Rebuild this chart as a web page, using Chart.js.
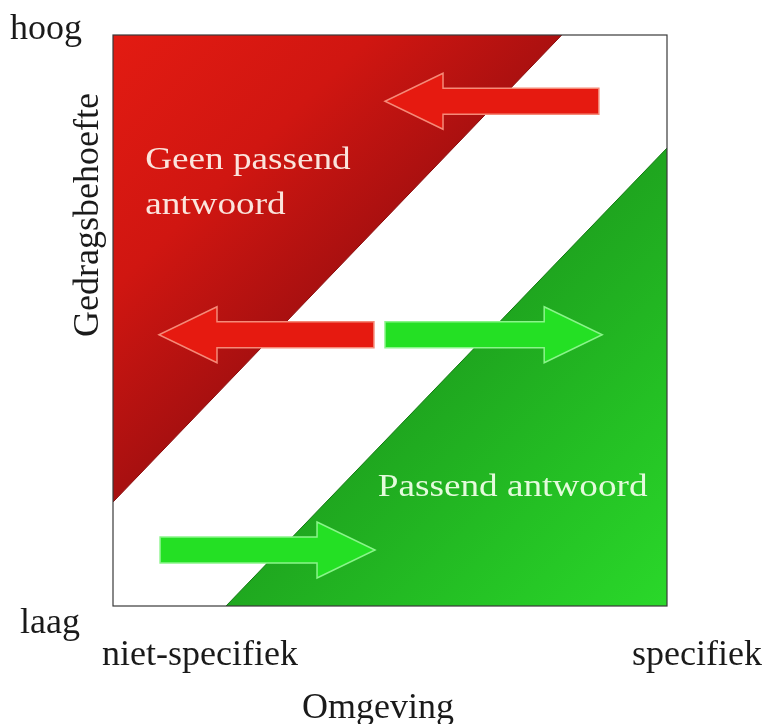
<!DOCTYPE html>
<html>
<head>
<meta charset="utf-8">
<script src="https://cdn.jsdelivr.net/npm/chart.js@4.4.0/dist/chart.umd.min.js"></script>
<style>
  body { margin: 0; background: #fff; }
  #wrap { width: 766px; height: 724px; }
</style>
</head>
<body>
<div id="wrap"><canvas id="diagram"></canvas></div>
<script>
// axis texts
const xTickLabels = ['niet-specifiek', 'specifiek'];
const yTickLabels = ['laag', 'hoog'];
const xTitle = 'Omgeving';
const yTitle = 'Gedragsbehoefte';

// the two regions (edge of each triangle, in 0..10 units)
const redEdgeX = [0, 8.1];
const redEdgeY = [1.82, 10];
const greenEdgeX = [2.04, 10];
const greenEdgeY = [0, 8.02];
const regionLabels = [['Geen passend', 'antwoord'], ['Passend antwoord']];
const regionLabelX = [0.58, 4.78];
const regionLabelY = [7.66, 1.93];

// arrows: from tail to tip at height y
const arrowFrom = [8.77, 4.71, 4.91, 0.85];
const arrowTo = [4.91, 0.83, 8.83, 4.73];
const arrowY = [8.84, 4.75, 4.75, 0.98];
const arrowKind = ['red', 'red', 'green', 'green'];

const arrowStyle = {
    red: { fill: '#e61a10', stroke: '#f58a78' },
    green: { fill: '#24e024', stroke: '#8af58a' }
};

function redGradient(context) {
    const a = context.chart.chartArea;
    if (!a) return '#d01812';
    const g = context.chart.ctx.createLinearGradient(a.left, a.top, a.left + 230, a.top + 235);
    g.addColorStop(0, '#e31b12');
    g.addColorStop(0.55, '#d01611');
    g.addColorStop(1, '#a81010');
    return g;
}

function greenGradient(context) {
    const a = context.chart.chartArea;
    if (!a) return '#26c026';
    const g = context.chart.ctx.createLinearGradient(a.right - 225, a.bottom - 230, a.right, a.bottom);
    g.addColorStop(0, '#1fa61f');
    g.addColorStop(0.5, '#24c024');
    g.addColorStop(1, '#2ad82a');
    return g;
}

function drawArrow(ctx, x0, x1, y, kind) {
    const d = x1 > x0 ? 1 : -1;
    const h = 13, H = 28, L = 58;
    const bx = x1 - d * L;
    ctx.beginPath();
    ctx.moveTo(x0, y - h);
    ctx.lineTo(bx, y - h);
    ctx.lineTo(bx, y - H);
    ctx.lineTo(x1, y);
    ctx.lineTo(bx, y + H);
    ctx.lineTo(bx, y + h);
    ctx.lineTo(x0, y + h);
    ctx.closePath();
    ctx.fillStyle = arrowStyle[kind].fill;
    ctx.fill();
    ctx.lineWidth = 1.5;
    ctx.strokeStyle = arrowStyle[kind].stroke;
    ctx.stroke();
}

const decorPlugin = {
    id: 'decor',
    afterDatasetsDraw(chart) {
        const ctx = chart.ctx;
        const a = chart.chartArea;
        const xs = chart.scales.x, ys = chart.scales.y;
        ctx.save();

        // frame
        ctx.strokeStyle = '#3a3a3a';
        ctx.lineWidth = 1.2;
        ctx.strokeRect(a.left, a.top, a.right - a.left, a.bottom - a.top);

        // arrows
        arrowFrom.forEach((from, i) => {
            drawArrow(ctx, xs.getPixelForValue(from), xs.getPixelForValue(arrowTo[i]),
                ys.getPixelForValue(arrowY[i]), arrowKind[i]);
        });

        // region labels (slightly wide serif, like the original)
        const labelColors = ['#fbe4dc', '#e4fbdc'];
        ctx.font = '31px "Liberation Serif", "DejaVu Serif", serif';
        ctx.textBaseline = 'alphabetic';
        ctx.textAlign = 'left';
        regionLabels.forEach((lines, i) => {
            const px = xs.getPixelForValue(regionLabelX[i]);
            const py = ys.getPixelForValue(regionLabelY[i]);
            ctx.fillStyle = labelColors[i];
            lines.forEach((line, j) => {
                ctx.save();
                ctx.translate(px, py + j * 45);
                ctx.scale(1.2, 1);
                ctx.fillText(line, 0, 0);
                ctx.restore();
            });
        });

        // axis texts
        ctx.fillStyle = '#1a1a1a';
        ctx.font = '36px "Liberation Serif", "DejaVu Serif", serif';
        ctx.textAlign = 'left';
        ctx.fillText(yTickLabels[1], 10, a.top + 4);
        ctx.fillText(yTickLabels[0], 20, a.bottom + 27);
        ctx.fillText(xTickLabels[0], 102, a.bottom + 59);
        ctx.textAlign = 'right';
        ctx.fillText(xTickLabels[1], 762, a.bottom + 59);
        ctx.textAlign = 'center';
        ctx.fillText(xTitle, 378, a.bottom + 112);

        ctx.save();
        ctx.translate(98, 215);
        ctx.rotate(-Math.PI / 2);
        ctx.fillText(yTitle, 0, 0);
        ctx.restore();

        ctx.restore();
    }
};

new Chart(document.getElementById('diagram'), {
    type: 'line',
    data: {
        datasets: [
            {
                label: 'Geen passend antwoord',
                data: redEdgeX.map((x, i) => ({ x, y: redEdgeY[i] })),
                fill: 'end',
                backgroundColor: redGradient,
                borderColor: '#8a0c0c',
                borderWidth: 1,
                pointRadius: 0
            },
            {
                label: 'Passend antwoord',
                data: greenEdgeX.map((x, i) => ({ x, y: greenEdgeY[i] })),
                fill: 'start',
                backgroundColor: greenGradient,
                borderColor: '#137a13',
                borderWidth: 1,
                pointRadius: 0
            }
        ]
    },
    options: {
        responsive: true,
        maintainAspectRatio: false,
        animation: false,
        layout: { padding: { left: 113, top: 35, right: 99, bottom: 118 } },
        scales: {
            x: { type: 'linear', min: 0, max: 10, display: false },
            y: { type: 'linear', min: 0, max: 10, display: false }
        },
        plugins: {
            legend: { display: false },
            tooltip: { enabled: false }
        }
    },
    plugins: [decorPlugin]
});
</script>
</body>
</html>
